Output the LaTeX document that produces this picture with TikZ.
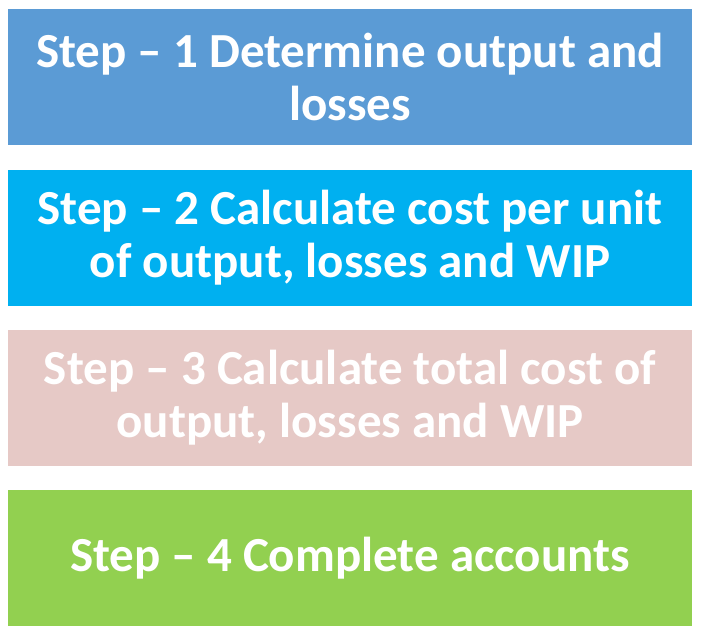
\documentclass[tikz,border=0pt]{standalone}
\usepackage{fontspec}
\setmainfont{Carlito}
\usepackage{xcolor}
\definecolor{stepblue}{HTML}{5B9BD5}
\definecolor{stepcyan}{HTML}{00B0F0}
\definecolor{steppink}{HTML}{E6C9C6}
\definecolor{stepgreen}{HTML}{92D050}
\begin{document}
\begin{tikzpicture}[
  x=1pt,y=-1pt,
  stepbox/.style={rectangle,minimum width=684pt,minimum height=136pt,
                  inner sep=0pt,align=center,text=white,
                  font=\fontsize{49}{53}\selectfont\bfseries}
]
\useasboundingbox (0,0) rectangle (708,638);
% Step 1
\node[stepbox,fill=stepblue] (s1) at (350,77)
  {Step -- 1 Determine output and\\losses};
% Step 2
\node[stepbox,fill=stepcyan] (s2) at (350,238)
  {Step -- 2 Calculate cost per unit\\of output, losses and WIP};
% Step 3
\node[stepbox,fill=steppink] (s3) at (350,398)
  {Step -- 3 Calculate total cost of\\output, losses and WIP};
% Step 4
\node[stepbox,fill=stepgreen] (s4) at (350,558)
  {Step -- 4 Complete accounts};
\end{tikzpicture}
\end{document}
